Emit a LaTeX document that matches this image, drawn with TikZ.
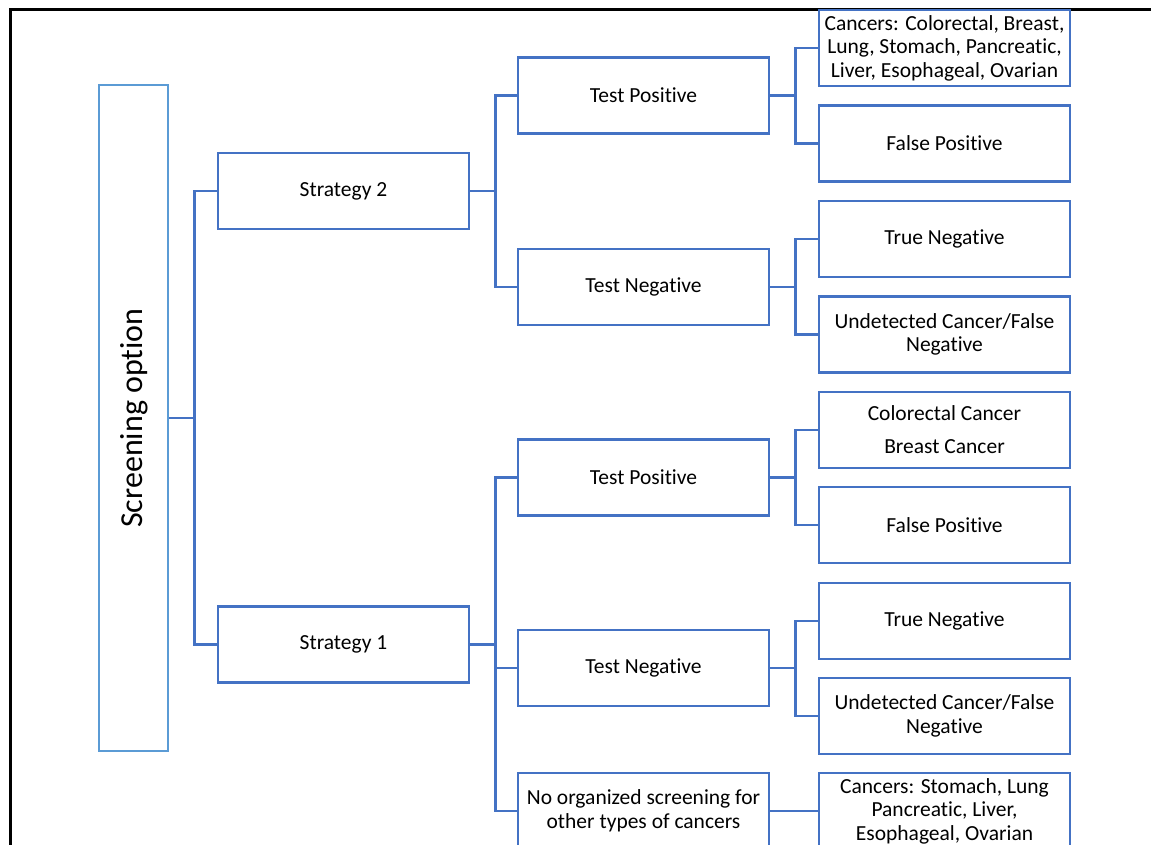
\documentclass[tikz,border=0pt]{standalone}
\usepackage{fontspec}
\setmainfont[RawFeature={-liga;-clig}]{Carlito}
\usetikzlibrary{calc}
\definecolor{boxblue}{HTML}{4472C4}
\definecolor{lightblue}{HTML}{5B9BD5}
\tikzset{
  box/.style={draw=boxblue, line width=2.5pt, fill=white, minimum width=251pt,
    minimum height=76pt, inner sep=0pt, align=center,
    font=\fontsize{21.5}{23.5}\selectfont},
  link/.style={draw=boxblue, line width=2.5pt},
  frame/.style={draw=black, line width=2.5pt}
}
\begin{document}
\begin{tikzpicture}[x=1pt, y=-1pt]
\useasboundingbox (0,0) rectangle (1151,845);
\clip (0,0) rectangle (1151,845);
% outer frame
\draw[frame] (1160,9.5) -- (10.5,9.5) -- (10.5,860);
% root
\node[draw=lightblue, line width=2.5pt, minimum width=69pt, minimum height=666pt,
  inner sep=0pt] (scr) at (133.5,418) {};
\node[rotate=90, font=\fontsize{32}{36}\selectfont] (scrt) at (134,418) {Screening option};
% strategies
\node[box] (s2) at (343.5,191) {Strategy 2};
\node[box] (s1) at (343.5,644.5) {Strategy 1};
% test results
\node[box] (tp2) at (643.5,95.5) {Test Positive};
\node[box] (tn2) at (643.5,287) {Test Negative};
\node[box] (tp1) at (643.5,477.5) {Test Positive};
\node[box] (tn1) at (643.5,668) {Test Negative};
\node[box] (nos) at (643.5,811) {No organized screening for\\other types of cancers};
% outcomes, strategy 2
\node[box] (c2) at (944.5,48) {Cancers: Colorectal, Breast,\\Lung, Stomach, Pancreatic,\\Liver, Esophageal, Ovarian};
\node[box] (fp2) at (944.5,143.5) {False Positive};
\node[box] (tr2) at (944.5,239) {True Negative};
\node[box] (un2) at (944.5,334.5) {Undetected Cancer/False\\Negative};
% outcomes, strategy 1
\node[box, font=\fontsize{21.5}{33}\selectfont] (c1) at (944.5,430) {Colorectal Cancer\\Breast Cancer};
\node[box] (fp1) at (944.5,525) {False Positive};
\node[box] (tr1) at (944.5,621) {True Negative};
\node[box] (un1) at (944.5,716) {Undetected Cancer/False\\Negative};
\node[box] (co1) at (944.5,811) {Cancers: Stomach, Lung\\Pancreatic, Liver,\\Esophageal, Ovarian};
% connectors
\draw[link] (scr.east) -- ++(25,0) |- (s2.west);
\draw[link] (scr.east) ++(25,0) |- (s1.west);
\draw[link] (s2.east) -- ++(25,0) |- (tp2.west);
\draw[link] (s2.east) ++(25,0) |- (tn2.west);
\draw[link] (s1.east) -- ++(25,0) |- (tp1.west);
\draw[link] (s1.east) ++(25,0) |- (tn1.west);
\draw[link] (s1.east) ++(25,0) |- (nos.west);
\draw[link] (tp2.east) -- ++(25,0) |- (c2.west);
\draw[link] (tp2.east) ++(25,0) |- (fp2.west);
\draw[link] (tn2.east) -- ++(25,0) |- (tr2.west);
\draw[link] (tn2.east) ++(25,0) |- (un2.west);
\draw[link] (tp1.east) -- ++(25,0) |- (c1.west);
\draw[link] (tp1.east) ++(25,0) |- (fp1.west);
\draw[link] (tn1.east) -- ++(25,0) |- (tr1.west);
\draw[link] (tn1.east) ++(25,0) |- (un1.west);
\draw[link] (nos.east) -- (co1.west);
\end{tikzpicture}
\end{document}
